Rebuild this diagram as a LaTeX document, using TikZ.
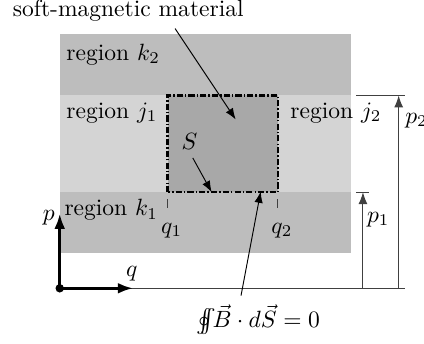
\documentclass[tikz,border=0pt]{standalone}
\usepackage{amsmath,amssymb}
\usetikzlibrary{arrows.meta}

\begin{document}
\begin{tikzpicture}[x=0.97cm,y=0.97cm,>=Latex,
  every node/.style={inner sep=1pt},
  outerband/.style={fill=black!26},
  innerband/.style={fill=black!17},
  core/.style={fill=black!34},
  contour/.style={line width=1pt,dash pattern=on 2.6pt off 0.9pt on 0.6pt off 0.9pt},
  dim/.style={black!75,line width=0.45pt},
  axis/.style={line width=1.2pt,-{Latex[length=6.5pt,width=4.6pt]}}]
  \useasboundingbox (-0.92,-0.85) rectangle (5.61,4.44);

  \coordinate (O) at (0,0);
  \coordinate (A) at (1.66,1.48);
  \coordinate (C) at (3.36,2.97);

  \fill[outerband] (0,0.55) rectangle (4.48,3.91);
  \fill[innerband] (0,1.48) rectangle (4.48,2.97);
  \fill[core] (A) rectangle (C);
  \draw[contour] (A) rectangle (C);

  \draw[dim] (O) -- (5.31,0);
  \draw[dim] (4.57,1.48) -- (4.76,1.48);
  \draw[dim] (4.57,2.97) -- (5.31,2.97);
  \draw[dim,->] (4.67,0) -- (4.67,1.48);
  \draw[dim,->] (5.22,0) -- (5.22,2.97);
  \draw[dim] (1.66,1.37) -- (1.66,1.23);
  \draw[dim] (3.36,1.37) -- (3.36,1.23);

  \draw[axis] (O) -- (0,1.15);
  \draw[axis] (O) -- (1.13,0);
  \fill (O) circle (1.8pt);

  \node[anchor=base] (smm) at (1.055,4.19) {soft-magnetic material};
  \node[anchor=base west] (k2) at (0.06,3.51) {region $k_2$};
  \node[anchor=base west] (j1) at (0.06,2.62) {region $j_1$};
  \node[anchor=base west] (j2) at (3.51,2.62) {region $j_2$};
  \node[anchor=base west] (k1) at (0.03,1.12) {region $k_1$};
  \node[anchor=base] (S) at (2.0,2.14) {$S$};
  \node[anchor=base] (q1) at (1.725,0.85) {$q_1$};
  \node[anchor=base] (q2) at (3.42,0.85) {$q_2$};
  \node[anchor=base] (p) at (-0.17,1.05) {$p$};
  \node[anchor=base] (q) at (1.11,0.185) {$q$};
  \node[anchor=base] (p1) at (4.905,1.02) {$p_1$};
  \node[anchor=base west] (p2) at (5.28,2.54) {$p_2$};
  \node[anchor=base] (flux) at (3.06,-0.61) {$\oint\!\!\!\!\int\!\!\vec{B}\cdot d\vec{S}=0$};

  \coordinate (smmtip) at (2.71,2.60);
  \coordinate (Stip) at (2.34,1.48);
  \coordinate (fluxtip) at (3.095,1.49);
  \draw[->] ([xshift=0.7cm,yshift=-0.07cm]smm.south) -- (smmtip);
  \draw[->,shorten <=2.8pt] (S.south) -- (Stip);
  \draw[->] ([xshift=-0.26cm,yshift=0.1cm]flux.north) -- (fluxtip);
\end{tikzpicture}
\end{document}
